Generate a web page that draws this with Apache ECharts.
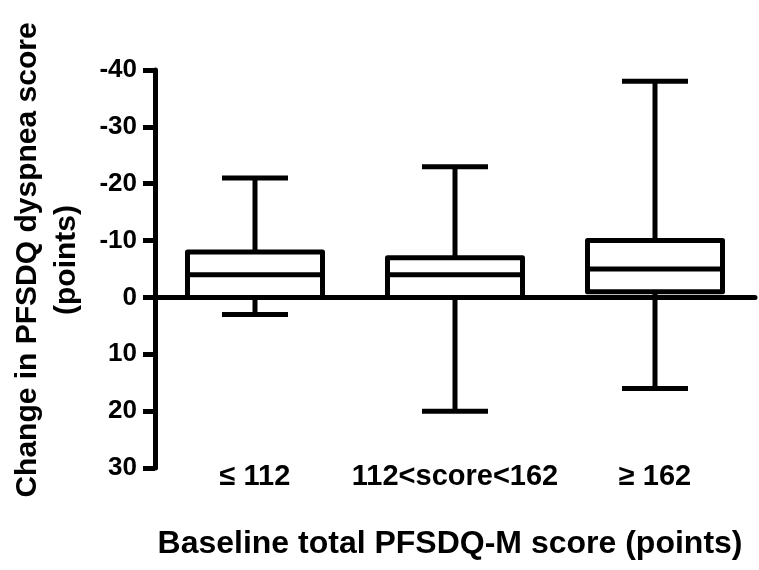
<!DOCTYPE html>
<html>
<head>
<meta charset="utf-8">
<script src="https://cdn.jsdelivr.net/npm/echarts@6/dist/echarts.min.js"></script>
<style>
  html, body { margin: 0; padding: 0; background: #fff; }
  #chart { width: 759px; height: 570px; }
</style>
</head>
<body>
<div id="chart"></div>
<script>
// groups on the x axis
var categories = ['\u2264 112', '112<score<162', '\u2265 162'];
// box plot values (negative = improvement, drawn upward)
var whiskerTop = [-21, -23, -38];
var boxTop = [-8, -7, -10];
var median = [-4, -4, -5];
var boxBottom = [0, 0, -1];
var whiskerBottom = [3, 20, 16];

var yMin = -40;
var yMax = 30;
var yStep = 10;

var font = "'Liberation Sans', Arial, Helvetica, sans-serif";

var boxData = categories.map(function (c, i) {
  return [i, whiskerTop[i], boxTop[i], median[i], boxBottom[i], whiskerBottom[i]];
});

var myChart = echarts.init(document.getElementById('chart'));

var lineStyle = { stroke: '#000', lineWidth: 5, lineCap: 'butt', lineJoin: 'round' };

function renderBox(params, api) {
  var i = api.value(0);
  var band = api.size([1, 0])[0];
  var x = api.coord([i, 0])[0];
  var half = band * 0.3375;
  var capHalf = band * 0.165;
  var yT = api.coord([i, api.value(1)])[1];
  var yQ3 = api.coord([i, api.value(2)])[1];
  var yMed = api.coord([i, api.value(3)])[1];
  var yQ1 = api.coord([i, api.value(4)])[1];
  var yB = api.coord([i, api.value(5)])[1];
  return {
    type: 'group',
    children: [
      { type: 'line', shape: { x1: x, y1: yQ3, x2: x, y2: yT }, style: lineStyle },
      { type: 'line', shape: { x1: x - capHalf, y1: yT, x2: x + capHalf, y2: yT }, style: lineStyle },
      { type: 'line', shape: { x1: x, y1: yQ1, x2: x, y2: yB }, style: lineStyle },
      { type: 'line', shape: { x1: x - capHalf, y1: yB, x2: x + capHalf, y2: yB }, style: lineStyle },
      { type: 'rect', shape: { x: x - half, y: yQ3, width: half * 2, height: yQ1 - yQ3 },
        style: { fill: 'transparent', stroke: '#000', lineWidth: 5, lineJoin: 'round' } },
      { type: 'line', shape: { x1: x - half, y1: yMed, x2: x + half, y2: yMed }, style: lineStyle }
    ]
  };
}

var option = {
  animation: false,
  backgroundColor: '#fff',
  grid: {
    left: 155,
    right: 4,
    top: 70,
    bottom: 102,
    containLabel: false,
    outerBoundsMode: 'none'
  },
  xAxis: [
    {
      type: 'category',
      data: categories,
      position: 'bottom',
      axisLine: { show: true, onZero: true, lineStyle: { color: '#000', width: 5 } },
      axisTick: { show: false },
      axisLabel: { show: false },
      splitLine: { show: false }
    },
    {
      type: 'category',
      data: categories,
      position: 'bottom',
      axisLine: { show: false, onZero: false },
      axisTick: { show: false },
      axisLabel: {
        show: true,
        interval: 0,
        hideOverlap: false,
        margin: -6,
        color: '#000',
        fontSize: 29,
        fontWeight: 'bold',
        fontFamily: font
      },
      splitLine: { show: false }
    }
  ],
  yAxis: {
    type: 'value',
    inverse: true,
    min: yMin,
    max: yMax,
    interval: yStep,
    axisLine: { show: true, onZero: false, lineStyle: { color: '#000', width: 5 } },
    axisTick: { show: true, length: 12, lineStyle: { color: '#000', width: 5 } },
    axisLabel: {
      margin: 18,
      color: '#000',
      fontSize: 26,
      fontWeight: 'bold',
      fontFamily: font
    },
    splitLine: { show: false }
  },
  graphic: [
    {
      type: 'text',
      x: 28,
      y: 260,
      rotation: Math.PI / 2,
      style: {
        text: 'Change in PFSDQ dyspnea score',
        fill: '#000',
        font: 'bold 30px ' + font,
        align: 'center',
        verticalAlign: 'middle'
      }
    },
    {
      type: 'text',
      x: 67,
      y: 260,
      rotation: Math.PI / 2,
      style: {
        text: '(points)',
        fill: '#000',
        font: 'bold 30px ' + font,
        align: 'center',
        verticalAlign: 'middle'
      }
    },
    {
      type: 'text',
      x: 450,
      y: 544,
      style: {
        text: 'Baseline total PFSDQ-M score (points)',
        fill: '#000',
        font: 'bold 32px ' + font,
        align: 'center',
        verticalAlign: 'middle'
      }
    }
  ],
  series: [
    {
      type: 'custom',
      xAxisIndex: 0,
      renderItem: renderBox,
      data: boxData,
      z: 5
    }
  ]
};

myChart.setOption(option);
</script>
</body>
</html>
